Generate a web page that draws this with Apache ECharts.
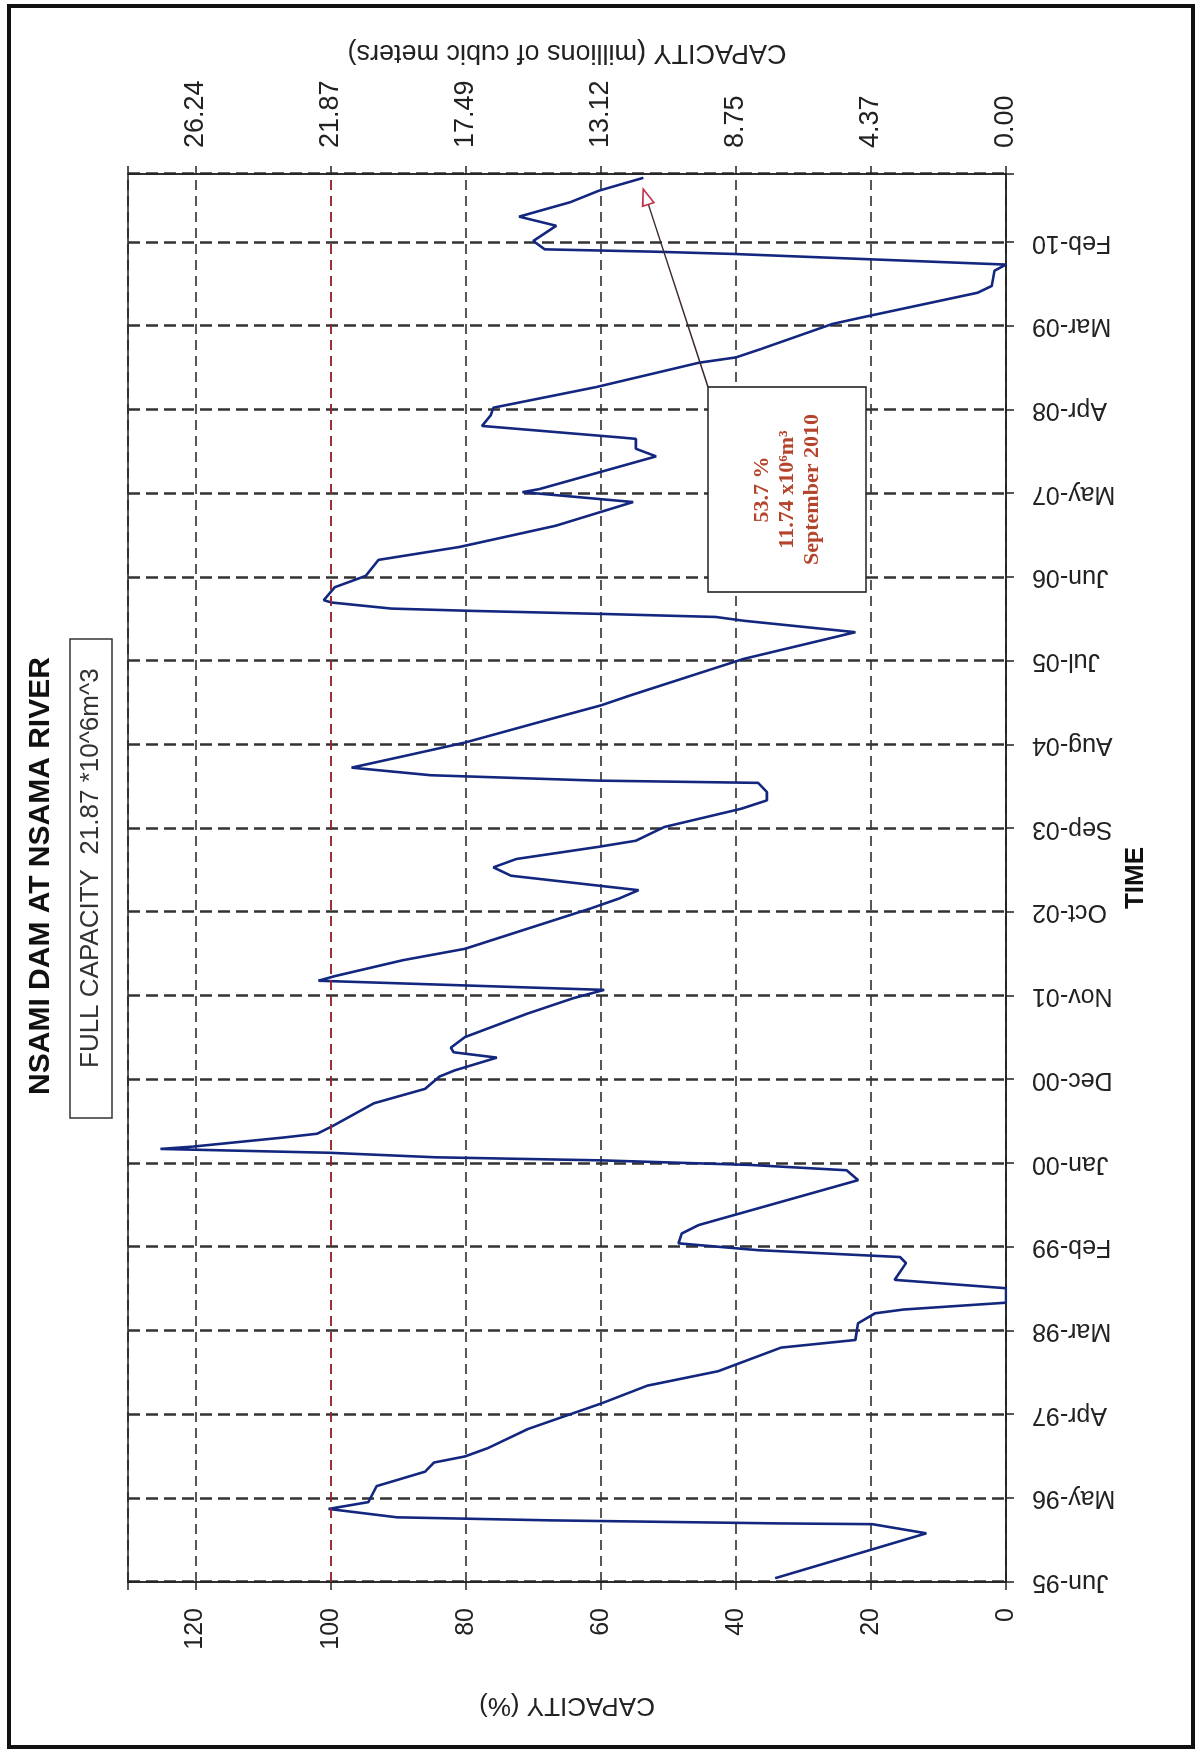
<!DOCTYPE html>
<html>
<head>
<meta charset="utf-8">
<script src="https://cdn.jsdelivr.net/npm/echarts@6/dist/echarts.min.js"></script>
<style>
  html, body { margin: 0; padding: 0; background: #fff; overflow: hidden; width: 1198px; height: 1752px; }
  /* the chart is laid out landscape and turned a quarter turn to sit on the portrait page */
  #chart { position: absolute; left: 0; top: 0; width: 1752px; height: 1198px;
           transform-origin: 0 0; transform: translate(0, 1752px) rotate(-90deg); background: #fff; }
</style>
</head>
<body>
<div id="chart"></div>
<script>
// Time axis: months counted from Jun-95, labelled every 11 months
const timeLabels = ['Jun-95','May-96','Apr-97','Mar-98','Feb-99','Jan-00','Dec-00','Nov-01',
  'Oct-02','Sep-03','Aug-04','Jul-05','Jun-06','May-07','Apr-08','Mar-09','Feb-10'];
const pctLabels = ['0','20','40','60','80','100','120'];
const volumeLabels = ['0.00','4.37','8.75','13.12','17.49','21.87','26.24'];

// Reservoir storage record (months since Jun-95, % of full capacity)
const months = [0.5,6.4,7.6,7.7,8.1,8.5,9.6,10.5,12.6,14.5,15.7,16.5,17.6,20.1,23.5,25.8,27.7,28.7,30.8,31.8,
  34.0,35.3,35.8,36.7,38.6,39.7,41.9,42.7,43.6,44.5,45.8,46.9,52.8,54.1,54.8,55.4,55.8,56.4,56.9,57.2,
  58.4,58.9,60.0,62.9,64.8,66.4,67.2,68.9,69.6,70.2,71.6,74.7,76.7,77.8,79.0,79.6,81.7,83.2,88.5,89.8,
  90.9,92.8,93.9,95.0,96.6,97.4,99.2,101.6,102.7,103.8,105.0,105.3,106.0,107.0,108.8,110.3,113.4,115.2,116.5,118.9,
  121.3,124.8,126.3,126.8,127.2,127.6,127.9,128.7,129.0,130.7,132.2,134.3,136.0,138.8,141.9,143.2,143.6,147.9,148.9,150.2,
  150.4,151.9,153.3,154.3,157.0,160.2,160.9,162.0,165.3,166.2,169.4,170.3,172.3,173.1,174.0,174.5,174.8,175.1,176.2,178.2,
  179.4,181.3,182.8,184.5];
const capacityPct = [34.2,11.8,19.8,33.8,67.5,90.2,100.3,94.4,93.2,86.0,84.7,80.1,76.7,70.8,59.8,53.1,42.6,39.6,33.3,22.3,
  21.9,19.4,15.2,0,0,16.5,14.8,15.7,36.7,48.5,48.0,45.5,21.9,23.6,37.9,59.9,84.3,100.3,125.2,120.5,
  107.0,102.0,99.5,93.6,86.0,83.9,81.7,75.4,81.8,82.2,80.1,70.8,64.1,59.5,101.8,99.4,89.3,80.1,61.5,57.3,
  54.4,73.3,75.9,72.5,60.3,54.8,50.6,39.2,35.4,35.4,36.7,60.7,85.1,96.9,87.7,80.1,67.4,59.9,55.6,47.2,
  38.8,22.3,38.8,43.0,59.9,79.2,91.0,99.9,101.0,99.4,94.8,92.9,80.9,66.6,55.2,71.6,69.1,51.8,54.8,54.8,
  57.3,77.6,76.3,75.9,60.7,45.5,40.0,36.3,25.7,21.1,4.2,2.1,1.7,0,26.1,40.5,52.3,68.3,70.0,66.6,
  72.1,64.5,60.3,53.7];

const fullCapacityPct = 100;
const latestNote = { month: 183, pct: 53.7, lines: ['53.7 %', '11.74 x10\u2076m\u00b3', 'September 2010'] };

const FONT = "'Liberation Sans', Arial, sans-serif";
const chart = echarts.init(document.getElementById('chart'));

const tickFromList = (list, step) => v => {
  const i = v / step;
  return Number.isInteger(i) && i < list.length ? list[i] : '';
};

chart.setOption({
  animation: false,
  backgroundColor: '#fff',
  title: [
    { text: 'NSAMI DAM AT NSAMA RIVER', left: 'center', top: 26, padding: 0,
      textStyle: { fontFamily: FONT, fontSize: 30, fontWeight: 'bold', color: '#111' } },
    { text: 'FULL CAPACITY  21.87 *10^6m^3', left: 634, top: 70, padding: [8, 30, 8, 50],
      borderColor: '#333', borderWidth: 1.5,
      textStyle: { fontFamily: FONT, fontSize: 26, fontWeight: 'normal', color: '#333' } }
  ],
  grid: { left: 170, right: 174, top: 128, bottom: 192, show: true,
          borderColor: '#222', borderWidth: 1.5, backgroundColor: 'transparent' },
  xAxis: {
    type: 'value', min: 0, max: 185, interval: 11,
    name: 'TIME', nameLocation: 'middle', nameGap: 112,
    nameTextStyle: { fontFamily: FONT, fontSize: 26, fontWeight: 'bold', color: '#111' },
    axisLine: { onZero: false, lineStyle: { color: '#222', width: 1.5 } },
    axisTick: { show: true, length: 8, lineStyle: { color: '#222', width: 1.5 } },
    axisLabel: { rotate: 90, margin: 26, fontFamily: FONT, fontSize: 25, color: '#222',
                 formatter: tickFromList(timeLabels, 11) },
    splitLine: { show: true, lineStyle: { color: '#333', width: 2.5, type: [12, 6] } }
  },
  yAxis: [
    { type: 'value', min: 0, max: 130, interval: 20, position: 'left',
      name: 'CAPACITY (%)', nameLocation: 'middle', nameRotate: 90, nameGap: 110,
      nameTextStyle: { fontFamily: FONT, fontSize: 26, color: '#222' },
      axisLine: { show: true, lineStyle: { color: '#222', width: 1.5 } },
      axisTick: { show: true, length: 8, lineStyle: { color: '#222', width: 1.5 } },
      axisLabel: { margin: 26, fontFamily: FONT, fontSize: 25, color: '#222',
                   formatter: tickFromList(pctLabels, 20) },
      splitLine: { show: true, lineStyle: { color: '#222', width: 1.5, type: [10, 6] } } },
    { type: 'value', min: 0, max: 130, interval: 20, position: 'right',
      name: 'CAPACITY (millions of cubic meters)', nameLocation: 'middle', nameRotate: 90, nameGap: 108,
      nameTextStyle: { fontFamily: FONT, fontSize: 27, color: '#222' },
      axisLine: { show: true, lineStyle: { color: '#222', width: 1.5 } },
      axisTick: { show: true, length: 8, lineStyle: { color: '#222', width: 1.5 } },
      axisLabel: { margin: 26, fontFamily: FONT, fontSize: 27, color: '#222',
                   formatter: tickFromList(volumeLabels, 20) },
      splitLine: { show: false } }
  ],
  series: [{
    type: 'line',
    data: months.map((m, i) => [m, capacityPct[i]]),
    showSymbol: false, symbol: 'none',
    lineStyle: { color: '#13277f', width: 2.6 },
    markLine: {
      silent: true, symbol: 'none', label: { show: false },
      lineStyle: { color: '#b3202a', width: 1.6, type: [10, 6] },
      data: [{ yAxis: fullCapacityPct }]
    }
  }]
});

// annotation box with a pointer to the latest reading, plus the page frame
const box = { x: 1160, y: 708, w: 205, h: 158 };
const tip = chart.convertToPixel({ xAxisIndex: 0, yAxisIndex: 0 }, [latestNote.month, latestNote.pct]);
const start = [box.x + box.w, box.y];
const ang = Math.atan2(tip[1] - start[1], tip[0] - start[0]);
const L = 16, W = 6;
const dx = Math.cos(ang), dy = Math.sin(ang);
const head = [
  tip,
  [tip[0] - L * dx - W * dy, tip[1] - L * dy + W * dx],
  [tip[0] - L * dx + W * dy, tip[1] - L * dy - W * dx]
];

chart.setOption({
  graphic: [
    { type: 'rect', shape: { x: 5, y: 9, width: 1741, height: 1184 },
      style: { fill: 'none', stroke: '#111', lineWidth: 4 }, z: 10 },
    { type: 'line', shape: { x1: start[0], y1: start[1], x2: tip[0] - L * dx, y2: tip[1] - L * dy },
      style: { stroke: '#3a2a2a', lineWidth: 1.4 }, z: 20 },
    { type: 'polygon', shape: { points: head },
      style: { fill: '#fff', stroke: '#c0304a', lineWidth: 1.6 }, z: 21 },
    { type: 'rect', shape: { x: box.x, y: box.y, width: box.w, height: box.h },
      style: { fill: '#fff', stroke: '#222', lineWidth: 1.6 }, z: 20 },
    { type: 'text', x: box.x + box.w / 2, y: box.y + box.h / 2, z: 21,
      style: { text: latestNote.lines.join('\n'), align: 'center', verticalAlign: 'middle',
               fontFamily: "'Liberation Serif', 'Times New Roman', serif", fontWeight: 'bold',
               fontSize: 22, lineHeight: 25, fill: '#b5442c' } }
  ]
});
</script>
</body>
</html>
